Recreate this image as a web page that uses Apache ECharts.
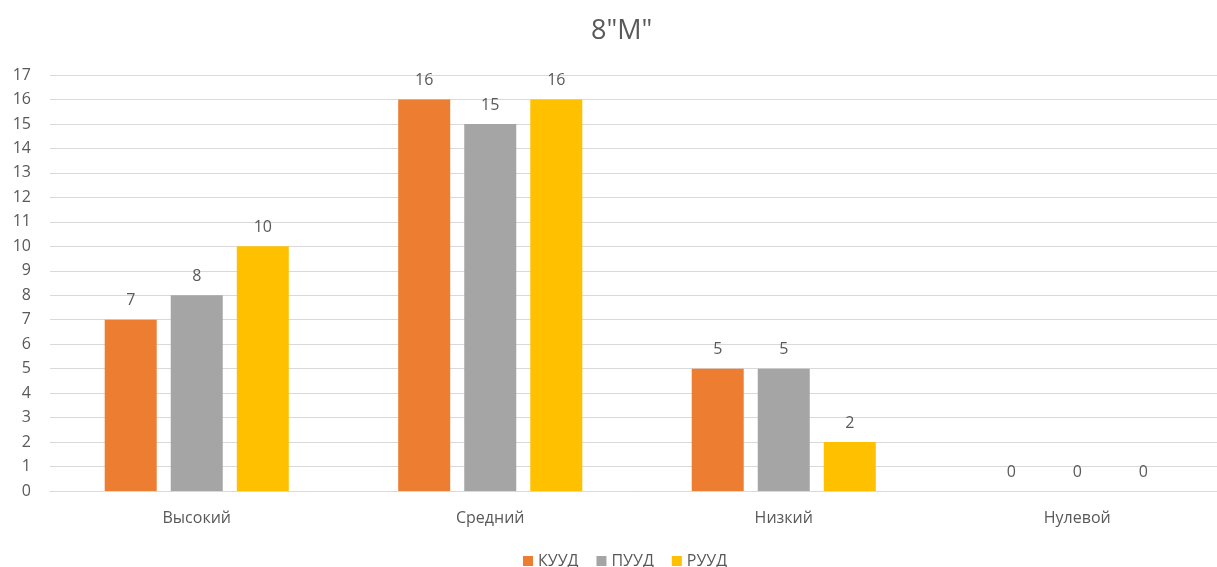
<!DOCTYPE html>
<html>
<head>
<meta charset="utf-8">
<script src="https://cdn.jsdelivr.net/npm/echarts@6/dist/echarts.min.js"></script>
<style>
  html, body { margin: 0; padding: 0; background: #fff; }
  #chart { width: 1217px; height: 567px; }
</style>
</head>
<body>
<div id="chart"></div>
<script>
// Levels and the three УУД groups
const categories = ['Высокий', 'Средний', 'Низкий', 'Нулевой'];
const seriesNames = ['КУУД', 'ПУУД', 'РУУД'];
const kuud = [7, 16, 5, 0];
const puud = [8, 15, 5, 0];
const ruud = [10, 16, 2, 0];
const colors = ['#ED7D31', '#A5A5A5', '#FFC000'];

const textColor = '#595959';
const fontFamily = '"Open Sans", "Noto Sans", sans-serif';

const chart = echarts.init(document.getElementById('chart'), null, { renderer: 'canvas' });

const makeSeries = (name, data, color) => ({
  name: name,
  type: 'bar',
  data: data,
  barWidth: 52,
  barGap: '27%',
  itemStyle: { color: color },
  label: {
    show: true,
    position: 'top',
    distance: 11,
    color: textColor,
    fontSize: 16,
    fontFamily: fontFamily
  }
});

chart.setOption({
  animation: false,
  title: {
    text: '8"М"',
    left: 586,
    top: 13,
    textStyle: { color: textColor, fontSize: 27, fontWeight: 'normal', fontFamily: fontFamily }
  },
  legend: {
    top: 548,
    left: 518,
    itemWidth: 10,
    itemHeight: 10,
    itemGap: 18,
    icon: 'rect',
    textStyle: { color: textColor, fontSize: 16, fontFamily: fontFamily },
    data: seriesNames
  },
  grid: {
    left: 50, width: 1174, top: 75, bottom: 76,
    containLabel: false,
    outerBoundsMode: 'none'
  },
  xAxis: {
    type: 'category',
    data: categories,
    axisLine: { lineStyle: { color: '#D9D9D9' } },
    axisTick: { show: false },
    axisLabel: { color: textColor, fontSize: 16, fontFamily: fontFamily, margin: 19 }
  },
  yAxis: {
    type: 'value',
    min: 0,
    max: 17,
    interval: 1,
    axisLine: { show: false },
    axisTick: { show: false },
    splitLine: { lineStyle: { color: '#D9D9D9' } },
    axisLabel: { color: textColor, fontSize: 16, fontFamily: fontFamily, margin: 19 }
  },
  series: [
    makeSeries(seriesNames[0], kuud, colors[0]),
    makeSeries(seriesNames[1], puud, colors[1]),
    makeSeries(seriesNames[2], ruud, colors[2])
  ]
});
</script>
</body>
</html>
